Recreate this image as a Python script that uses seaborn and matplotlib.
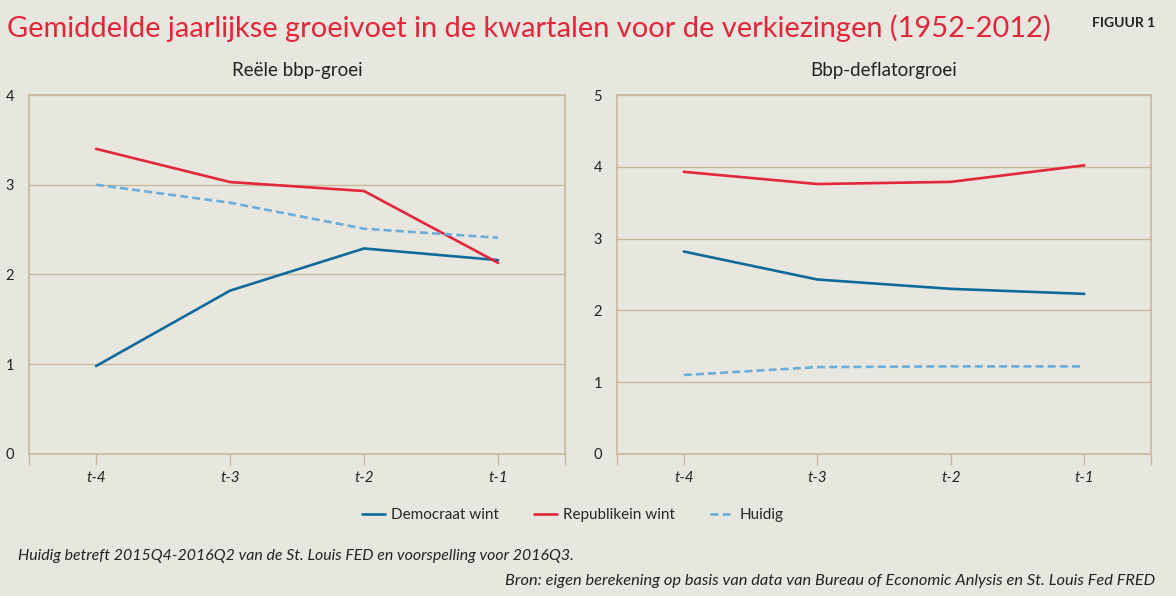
import pandas as pd
import seaborn as sns
import matplotlib.pyplot as plt
from matplotlib.lines import Line2D

# x categories (quarters before the election)
quarters = ["t-4", "t-3", "t-2", "t-1"]
series_names = ["Democraat wint", "Republikein wint", "Huidig"]

# Reële bbp-groei
gdp_dem = [0.98, 1.82, 2.29, 2.16]
gdp_rep = [3.40, 3.03, 2.93, 2.13]
gdp_now = [3.00, 2.80, 2.51, 2.41]

# Bbp-deflatorgroei
defl_dem = [2.82, 2.43, 2.30, 2.23]
defl_rep = [3.93, 3.76, 3.79, 4.02]
defl_now = [1.10, 1.21, 1.22, 1.22]

panel_titles = ["Reële bbp-groei", "Bbp-deflatorgroei"]
panel_ymax = [4, 5]

bg = "#e8e7df"
tan = "#c9b99b"
colors = {"Democraat wint": "#0f6a9c", "Republikein wint": "#e3263a", "Huidig": "#6aaedb"}
dashes = {"Democraat wint": "", "Republikein wint": "", "Huidig": (3, 1.6)}

rows = []
for panel, sets in zip(panel_titles, [(gdp_dem, gdp_rep, gdp_now), (defl_dem, defl_rep, defl_now)]):
    for name, vals in zip(series_names, sets):
        for q, v in zip(quarters, vals):
            rows.append({"panel": panel, "reeks": name, "kwartaal": q, "waarde": v})
df = pd.DataFrame(rows)

sns.set_theme(style="white")
plt.rcParams["font.family"] = ["Lato", "DejaVu Sans"]

fig = plt.figure(figsize=(11.76, 5.96), dpi=100, facecolor=bg)
axes = [fig.add_axes([0.0247, 0.2383, 0.4558, 0.6023]),
        fig.add_axes([0.5247, 0.2383, 0.4541, 0.6023])]

for ax, title, ymax in zip(axes, panel_titles, panel_ymax):
    sub = df[df["panel"] == title]
    sns.lineplot(data=sub, x="kwartaal", y="waarde", hue="reeks", style="reeks",
                 palette=colors, dashes=dashes, linewidth=1.9, sort=False,
                 legend=False, ax=ax)
    ax.set_facecolor(bg)
    ax.set_xlim(-0.5, 3.5)
    ax.set_ylim(0, ymax)
    ax.set_yticks(range(ymax + 1))
    ax.set_xticks(range(len(quarters)))
    ax.set_xticklabels(quarters, fontstyle="italic", fontsize=11, color="#222222")
    ax.set_xticks([-0.5, 3.5], minor=True)
    ax.tick_params(axis="x", which="both", length=8, width=1, color=tan, pad=4, bottom=True)
    ax.tick_params(axis="y", length=0, pad=17, labelsize=10.5, labelcolor="#222222")
    for lab in ax.get_yticklabels():
        lab.set_horizontalalignment("left")
    ax.grid(axis="y", color=tan, linewidth=1)
    ax.set_axisbelow(True)
    for s in ax.spines.values():
        s.set_color(tan)
        s.set_linewidth(1.2)
    ax.set_xlabel("")
    ax.set_ylabel("")
    ax.set_title(title, fontsize=13.5, color="#222222", pad=14)

fig.text(0.006, 0.953, "Gemiddelde jaarlijkse groeivoet in de kwartalen voor de verkiezingen (1952-2012)",
         fontsize=20.9, color="#e3263a", ha="left", va="center")
fig.text(0.982, 0.962, "FIGUUR 1", fontsize=10, fontweight="bold", color="#222222",
         ha="right", va="center")

handles = [Line2D([], [], color=colors[n], linewidth=1.9,
                  linestyle=(0, dashes[n]) if dashes[n] else "-") for n in series_names]
fig.legend(handles, series_names, loc="center", bbox_to_anchor=(0.487, 0.136), ncol=3,
           frameon=False, fontsize=11, handlelength=1.5, columnspacing=2.3, handletextpad=0.4)

fig.text(0.015, 0.067, "Huidig betreft 2015Q4-2016Q2 van de St. Louis FED en voorspelling voor 2016Q3.",
         fontsize=11.4, fontstyle="italic", color="#222222", ha="left", va="center")
fig.text(0.982, 0.026, "Bron: eigen berekening op basis van data van Bureau of Economic Anlysis en St. Louis Fed FRED",
         fontsize=11.8, fontstyle="italic", color="#222222", ha="right", va="center")

fig.savefig("out.png", dpi=100, facecolor=bg)
